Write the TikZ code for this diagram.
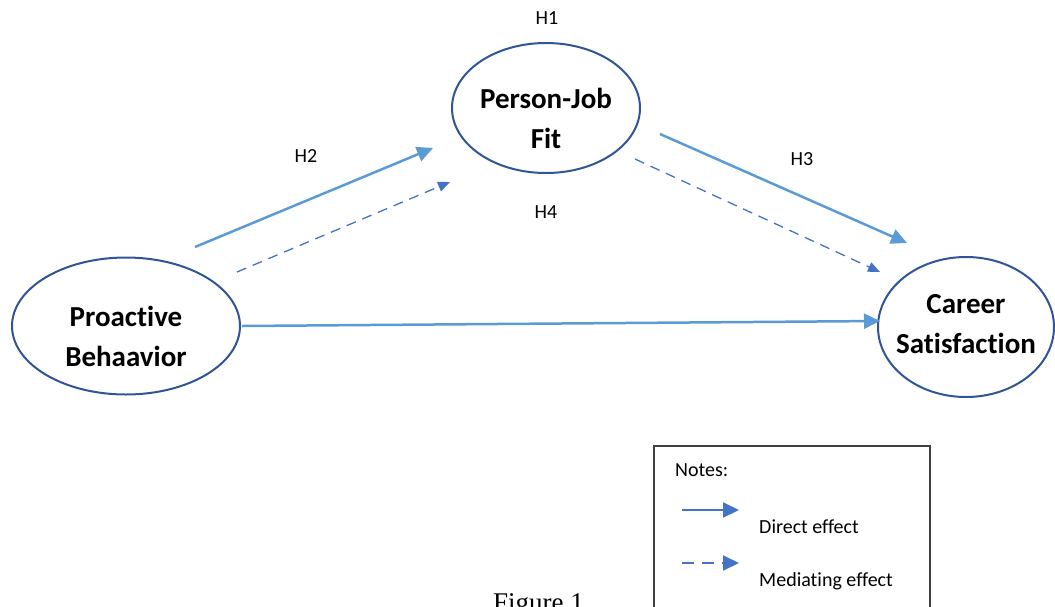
\documentclass[tikz,border=0pt]{standalone}
\usepackage{fontspec}
\setmainfont{Carlito}[Ligatures={NoCommon,NoRare}]
\newfontfamily\captionfont{Liberation Serif}
\usetikzlibrary{shapes.geometric,arrows.meta}
\definecolor{ovalblue}{HTML}{2F5597}
\definecolor{directblue}{HTML}{5B9BD5}
\definecolor{mediateblue}{HTML}{4472C4}
\tikzset{
  construct/.style={ellipse,draw=ovalblue,line width=2pt,inner sep=0pt},
  constructtext/.style={align=center,inner sep=0pt,font=\fontsize{29}{40}\selectfont\bfseries},
  directarrow/.style={draw=directblue,line width=2.5pt,-{Triangle[length=16pt,width=15pt]}},
  mediatearrow/.style={draw=mediateblue,line width=1.3pt,dash pattern=on 10pt off 7pt,-{Triangle[length=12pt,width=10pt]}},
  hyplabel/.style={anchor=base,inner sep=0pt,font=\fontsize{20}{24}\selectfont},
}
\begin{document}
\begin{tikzpicture}[x=1pt,y=-1pt]
\clip (0,0) rectangle (1055,606);
% constructs
\node[construct,minimum width=228pt,minimum height=137pt] (PB) at (126,326) {};
\node[construct,minimum width=188pt,minimum height=130pt] (PJ) at (546,108) {};
\node[construct,minimum width=176pt,minimum height=140pt] (CS) at (966,327) {};
\node[constructtext] (PBtext) at (126,336) {Proactive\\Behaavior};
\node[constructtext] (PJtext) at (546,118) {Person-Job\\Fit};
\node[constructtext] (CStext) at (966,324) {Career\\Satisfaction};
% arrow ends
\coordinate (a1) at (195,247);
\coordinate (a2) at (433,148);
\coordinate (b1) at (237,272);
\coordinate (b2) at (450,182);
\coordinate (c1) at (660,134);
\coordinate (c2) at (907,243);
\coordinate (d1) at (635,159);
\coordinate (d2) at (880,272);
\coordinate (e1) at (242,326);
\coordinate (e2) at (880,321);
\draw[directarrow] (a1)--(a2);
\draw[mediatearrow] (b1)--(b2);
\draw[directarrow] (c1)--(c2);
\draw[mediatearrow] (d1)--(d2);
\draw[directarrow] (e1)--(e2);
% hypotheses
\node[hyplabel] (H1) at (547,24) {H1};
\node[hyplabel] (H2) at (306,162) {H2};
\node[hyplabel] (H3) at (802,165) {H3};
\node[hyplabel] (H4) at (546,218) {H4};
% notes
\draw[draw=black!75,line width=1.3pt] (654,446) rectangle (930,650);
\node[hyplabel,anchor=base west] (notes) at (675,476) {Notes:};
\coordinate (f1) at (682,510);
\coordinate (f2) at (739,510);
\coordinate (g1) at (682,563);
\coordinate (g2) at (739,563);
\draw[directarrow,draw=mediateblue,line width=2pt,-{Triangle[length=16pt,width=15pt]}] (f1)--(f2);
\draw[mediatearrow,line width=2pt,dash pattern=on 12pt off 8pt,-{Triangle[length=16pt,width=15pt]}] (g1)--(g2);
\node[hyplabel,anchor=base west] (direct) at (759,533) {Direct effect};
\node[hyplabel,anchor=base west] (mediating) at (759,586) {Mediating effect};
\node[anchor=base west,inner sep=0pt,font=\captionfont\fontsize{27}{30}\selectfont] (caption) at (493,611) {Figure 1};
\end{tikzpicture}
\end{document}
